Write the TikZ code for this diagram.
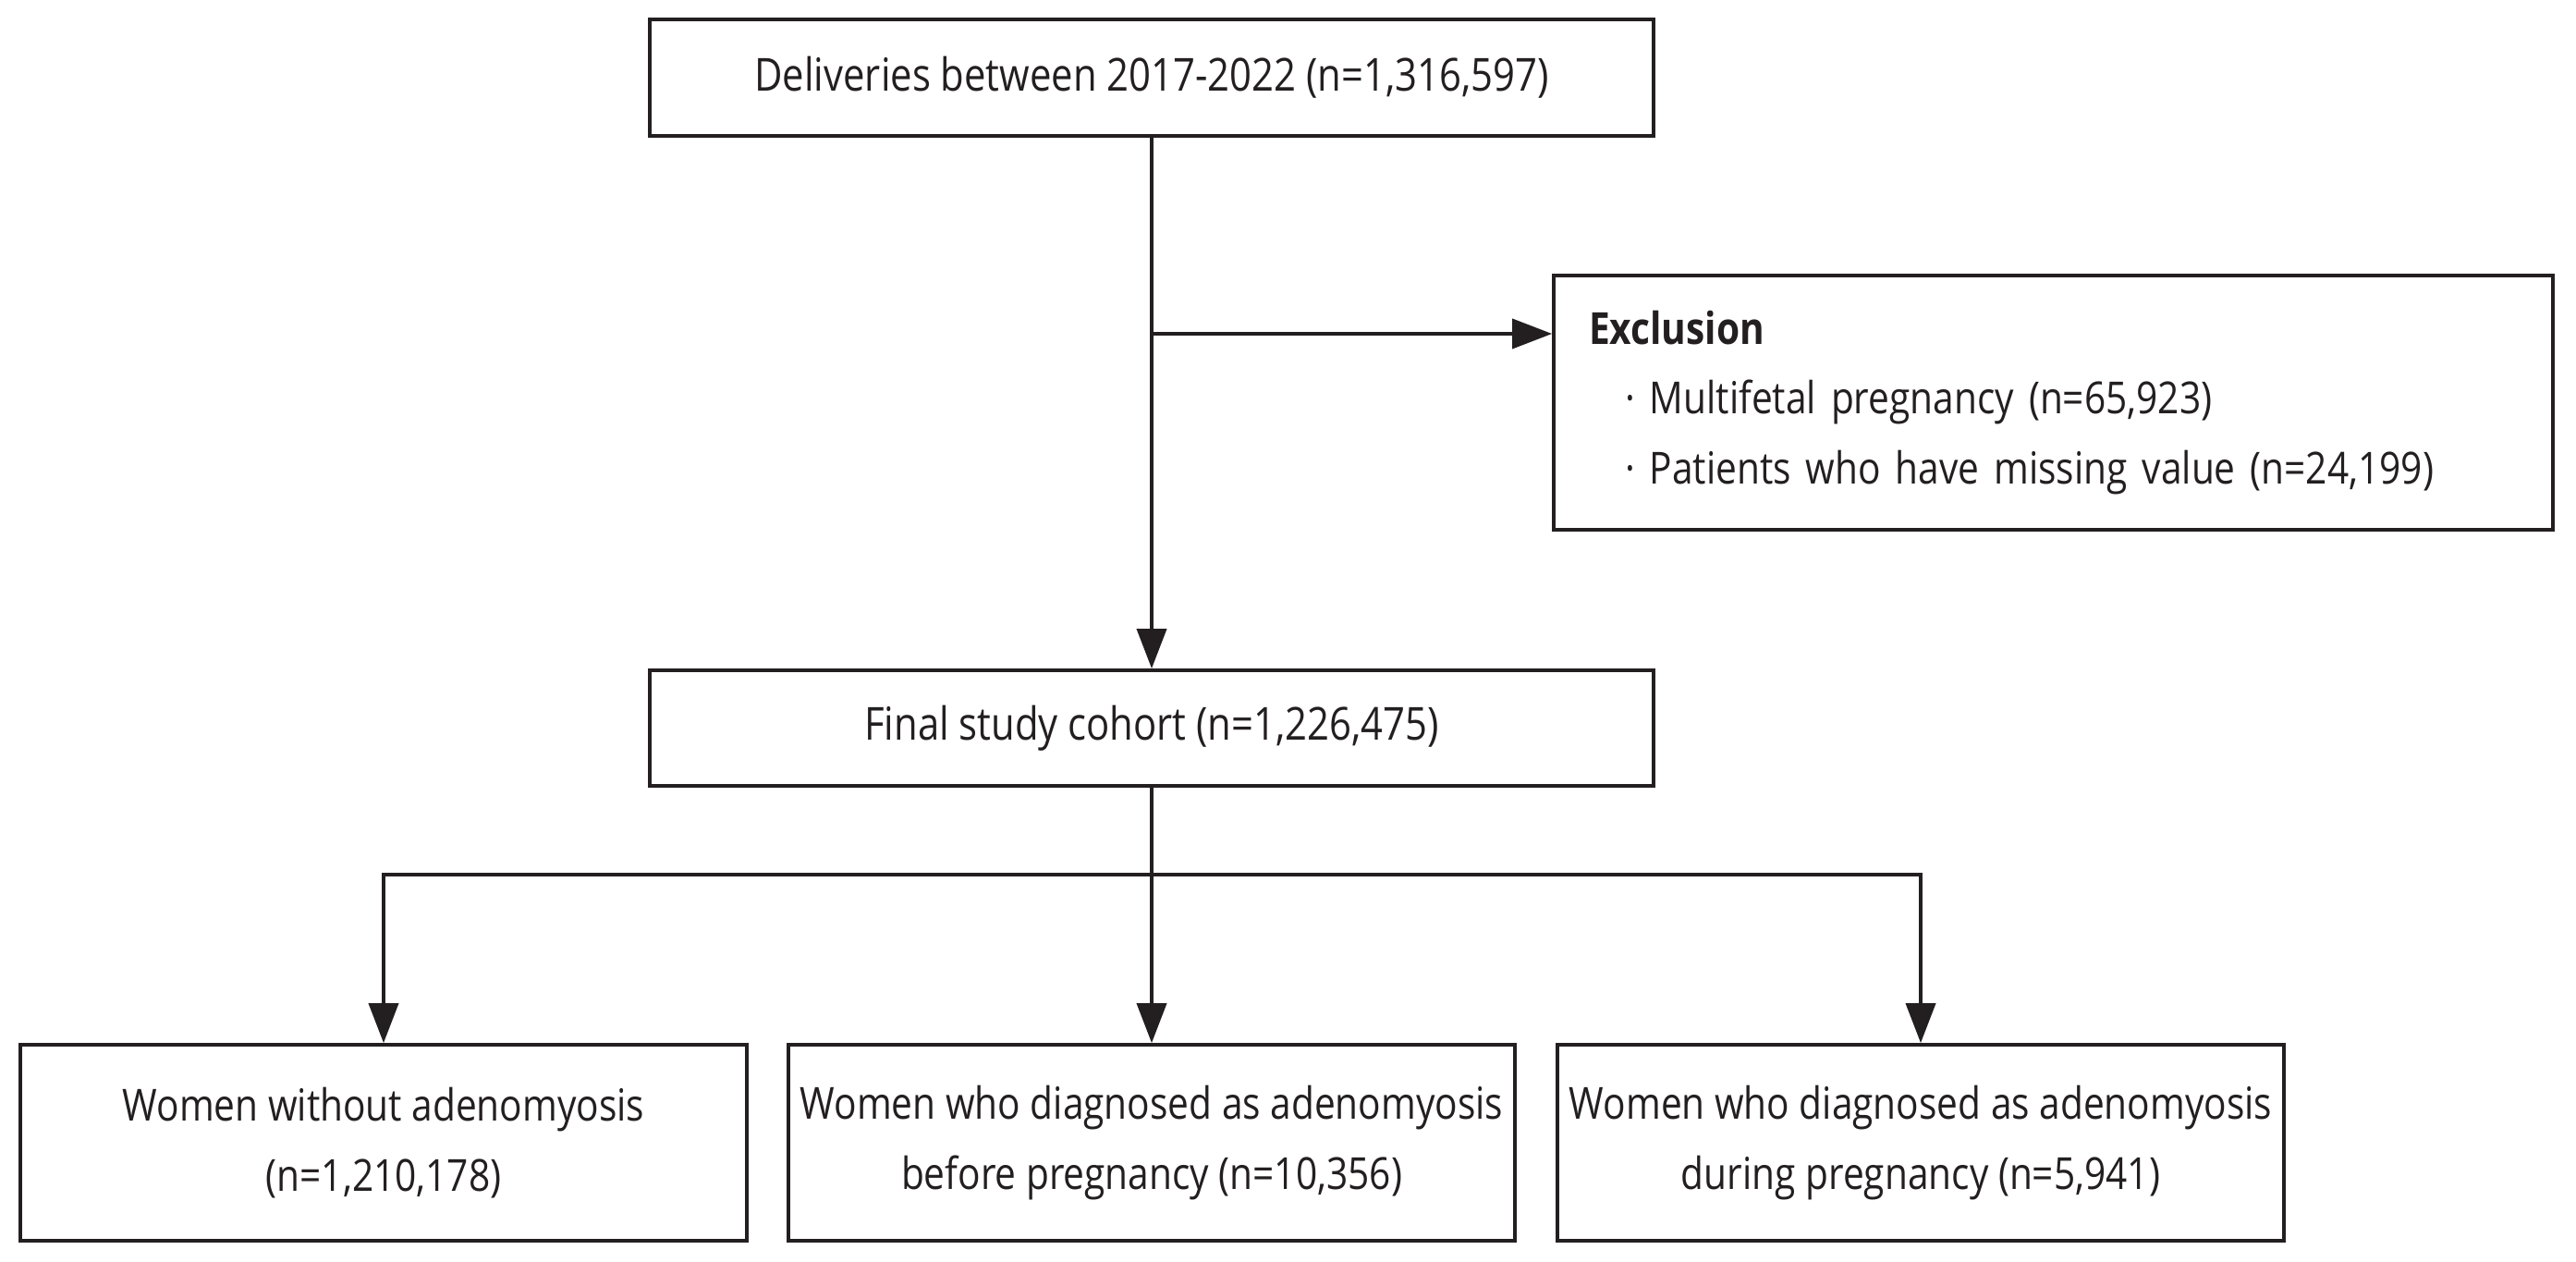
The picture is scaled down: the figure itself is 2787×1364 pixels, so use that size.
\documentclass[tikz,border=0pt]{standalone}
\usepackage{fontspec}
\setmainfont{Open Sans}[FakeStretch=0.85]
\usetikzlibrary{arrows.meta}
\definecolor{ink}{HTML}{231F20}
\begin{document}
\begin{tikzpicture}[x=0.1mm,y=-0.1mm,
  box/.style={draw=ink, line width=0.38mm, inner sep=0pt, align=center, text=ink,
    font=\fontsize{13.6}{21.5}\selectfont},
  wide/.style={font=\fontsize{14}{21.5}\selectfont},
  arr/.style={draw=ink, line width=0.38mm, -{Triangle[length=4.3mm,width=3.2mm]}},
  ln/.style={draw=ink, line width=0.38mm}]
\path[use as bounding box, fill=white] (0,0) rectangle (2787,1364);
\node[box, wide, minimum width=108.6mm, minimum height=12.6mm] (top) at (1246,84)
  {Deliveries between 2017-2022 (n=1,316,597)};
\node[box, wide, minimum width=108.6mm, minimum height=12.5mm] (final) at (1246,787.5)
  {Final study cohort (n=1,226,475)};
\node[box, align=left, text width=100.5mm, inner xsep=3.8mm, minimum height=27.5mm] (excl) at (2221.5,435.5)
  {\mbox{\textbf{Exclusion}}\\
   \mbox{\hspace*{3.9mm}\textperiodcentered\hspace{1.6mm}Multifetal pregnancy (n=65,923)}\\
   \mbox{\hspace*{3.9mm}\textperiodcentered\hspace{1.6mm}Patients who have missing value (n=24,199)}};
\node[box, minimum width=78.6mm, minimum height=21.2mm] (b1) at (415,1236)
  {Women without adenomyosis\\(n=1,210,178)};
\node[box, minimum width=78.6mm, minimum height=21.2mm] (b2) at (1246,1236)
  {Women who diagnosed as adenomyosis\\before pregnancy (n=10,356)};
\node[box, minimum width=78.6mm, minimum height=21.2mm] (b3) at (2078,1236)
  {Women who diagnosed as adenomyosis\\during pregnancy (n=5,941)};
\draw[arr] (top.south) -- (final.north);
\coordinate (ej) at (1246,361);
\draw[arr] (ej) -- (ej -| excl.west);
\coordinate (bj) at (1246,946);
\draw[ln] (final.south) -- (bj);
\draw[arr] (bj) -- (b2.north);
\draw[arr] (bj) -| (b1.north);
\draw[arr] (bj) -| (b3.north);
\end{tikzpicture}
\end{document}
